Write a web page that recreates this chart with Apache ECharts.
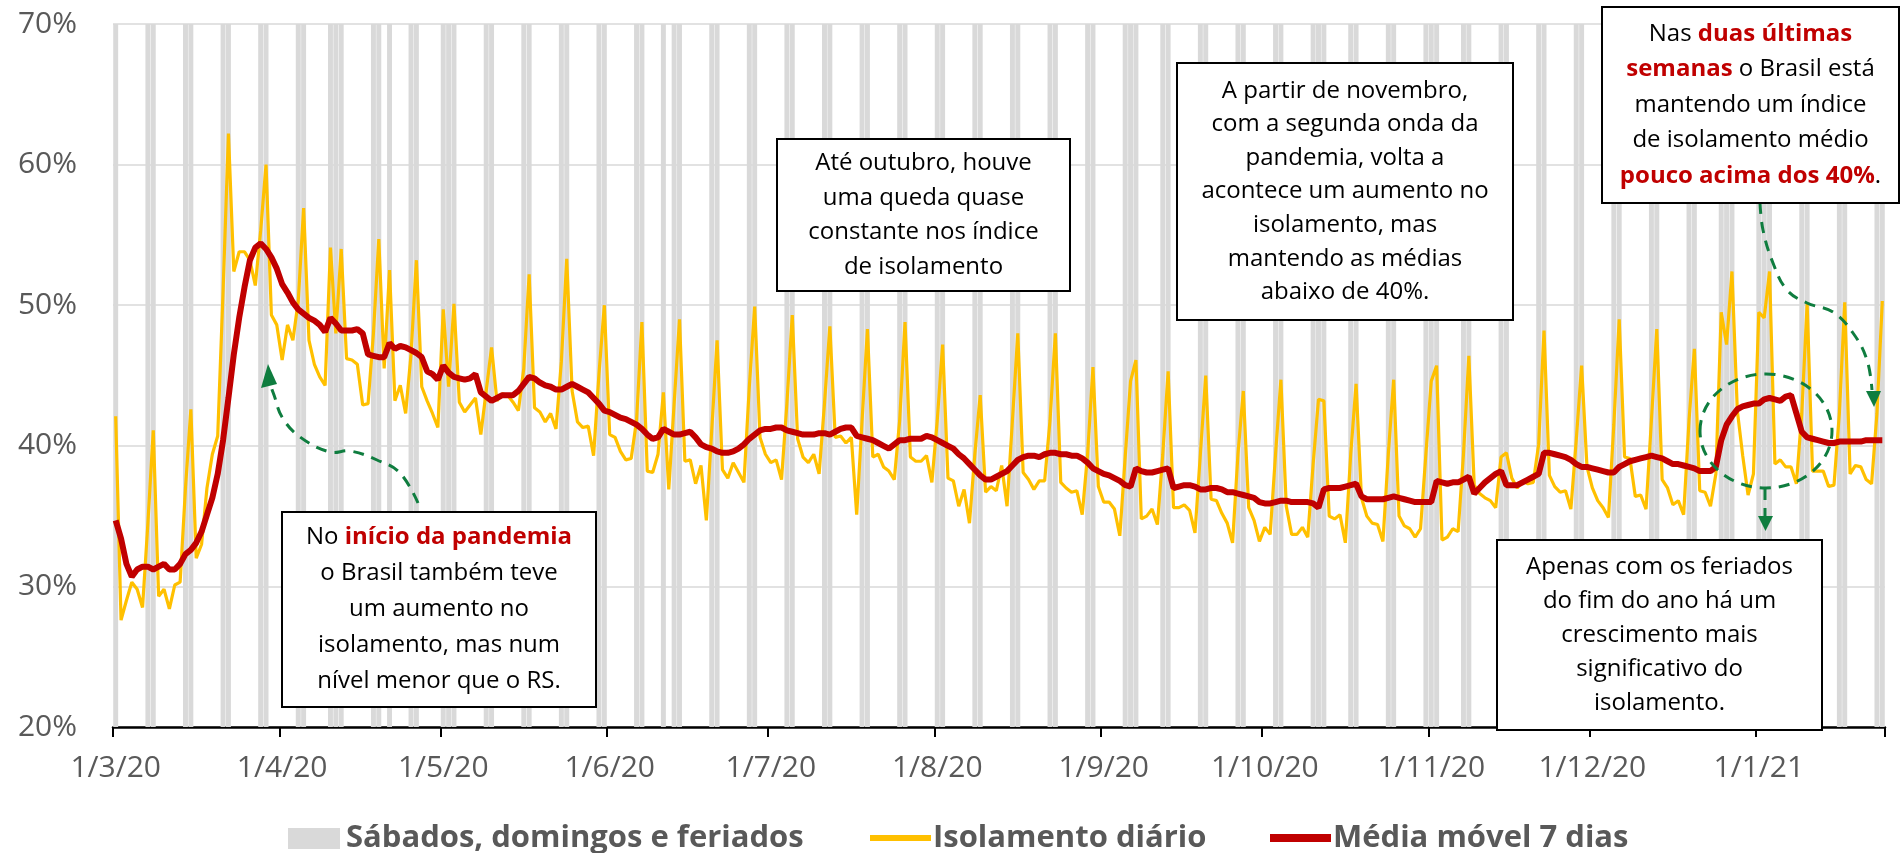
<!DOCTYPE html>
<html>
<head>
<meta charset="utf-8">
<title>Isolamento social - Brasil</title>
<script src="https://cdn.jsdelivr.net/npm/echarts@6.0.0/dist/echarts.min.js"></script>
<style>
  html, body { margin: 0; padding: 0; background: #fff; }
  #chart { width: 1901px; height: 853px; }
</style>
</head>
<body>
<div id="chart"></div>
<script>
// first day of the series (1/3/20) and number of days
var startDay = [2020, 2, 1];
var dayCount = 330;

// saturdays, sundays and holidays (index of the day from 1/3/20)
var offDays = [0, 6, 7, 13, 14, 20, 21, 27, 28, 34, 35, 40, 41, 42, 48, 49, 51, 55, 56,
  61, 62, 63, 69, 70, 76, 77, 83, 84, 90, 91, 97, 98, 102, 104, 105, 111, 112, 118, 119,
  125, 126, 132, 133, 139, 140, 146, 147, 153, 154, 160, 161, 167, 168, 174, 175, 181, 182,
  188, 189, 190, 195, 196, 202, 203, 209, 210, 216, 217, 223, 224, 225, 230, 231, 237, 238,
  244, 245, 246, 251, 252, 258, 259, 265, 266, 272, 273, 279, 280, 286, 287, 293, 294,
  299, 300, 301, 306, 307, 308, 314, 315, 321, 322, 328, 329];

// isolamento diario (%)
var daily = [
  42.1, 27.6, 29.0, 30.3, 29.8, 28.5, 34.5, 41.1, 29.3, 29.8,
  28.4, 30.1, 30.3, 37.0, 42.6, 32.0, 33.0, 37.0, 39.4, 40.7,
  51.0, 62.2, 52.4, 53.8, 53.8, 53.2, 51.4, 55.3, 60.0, 49.3,
  48.6, 46.1, 48.6, 47.5, 50.3, 56.9, 47.5, 45.8, 44.9, 44.3,
  54.1, 48.0, 54.0, 46.2, 46.1, 45.8, 42.9, 43.0, 48.0, 54.7,
  45.5, 52.5, 43.2, 44.3, 42.3, 46.5, 53.2, 44.2, 43.2, 42.3,
  41.3, 49.7, 44.2, 50.1, 43.1, 42.4, 42.9, 43.4, 40.8, 43.9,
  47.0, 43.2, 43.7, 43.6, 43.1, 42.5, 45.5, 52.2, 42.7, 42.4,
  41.7, 42.3, 41.2, 46.0, 53.3, 43.9, 41.7, 41.3, 41.4, 39.3,
  45.1, 50.0, 40.8, 40.6, 39.6, 39.0, 39.1, 41.8, 48.8, 38.2,
  38.1, 39.4, 43.8, 36.9, 43.0, 49.0, 38.9, 39.0, 37.3, 38.6,
  34.7, 41.1, 47.5, 38.3, 37.7, 38.8, 38.1, 37.4, 44.2, 49.9,
  40.6, 39.4, 38.8, 39.0, 37.6, 43.0, 49.3, 40.5, 39.2, 38.8,
  39.4, 38.0, 43.0, 48.5, 40.6, 40.7, 40.2, 40.6, 35.1, 41.8,
  48.3, 39.2, 39.4, 38.5, 38.2, 37.6, 41.8, 48.8, 39.2, 38.9,
  38.9, 39.3, 37.4, 41.8, 47.2, 37.7, 37.5, 35.7, 36.9, 34.5,
  39.4, 43.6, 36.7, 37.1, 36.8, 38.6, 35.7, 41.8, 48.0, 38.1,
  37.6, 36.9, 37.5, 37.5, 41.8, 48.0, 37.4, 37.0, 36.7, 36.8,
  35.1, 39.4, 45.6, 37.1, 36.0, 36.0, 35.5, 33.6, 39.2, 44.6,
  46.1, 34.8, 35.0, 35.5, 34.4, 39.4, 45.3, 35.6, 35.6, 35.8,
  35.4, 33.8, 39.4, 45.0, 36.2, 36.1, 35.2, 34.5, 33.1, 39.4,
  43.9, 35.6, 34.7, 33.2, 34.2, 33.7, 39.4, 44.7, 35.7, 33.7,
  33.7, 34.2, 33.5, 38.7, 43.3, 43.2, 35.0, 34.8, 35.1, 33.1,
  39.4, 44.4, 36.3, 35.0, 34.5, 34.4, 33.2, 39.4, 44.7, 35.0,
  34.3, 34.1, 33.5, 34.1, 39.4, 44.6, 45.7, 33.3, 33.5, 34.1,
  33.9, 39.4, 46.4, 37.2, 36.6, 36.3, 36.1, 35.6, 39.2, 39.5,
  37.7, 37.0, 37.5, 37.3, 37.4, 40.1, 48.2, 37.9, 37.1, 36.7,
  36.8, 35.5, 40.4, 45.7, 38.5, 37.0, 36.1, 35.6, 34.9, 41.5,
  49.0, 39.2, 39.1, 36.4, 36.5, 35.5, 41.8, 48.3, 37.6, 37.0,
  35.8, 36.1, 35.1, 41.8, 46.9, 36.8, 36.7, 35.7, 38.0, 49.5,
  47.2, 52.4, 42.5, 39.3, 36.5, 38.0, 49.5, 49.1, 52.4, 38.7,
  39.0, 38.5, 38.5, 37.3, 42.3, 50.1, 38.2, 38.2, 38.2, 37.1,
  37.2, 42.3, 50.2, 38.0, 38.6, 38.5, 37.6, 37.3, 42.3, 50.3
];

// media movel 7 dias (%)
var movingAvg = [
  34.7, 33.4, 31.6, 30.7, 31.2, 31.4, 31.4, 31.2, 31.4, 31.6,
  31.2, 31.2, 31.6, 32.3, 32.6, 33.1, 33.9, 35.1, 36.3, 38.0,
  40.4, 43.4, 46.5, 49.1, 51.3, 53.2, 54.1, 54.4, 54.0, 53.4,
  52.6, 51.5, 50.9, 50.2, 49.7, 49.4, 49.1, 48.9, 48.6, 48.1,
  49.1, 48.7, 48.2, 48.2, 48.2, 48.3, 48.0, 46.5, 46.4, 46.3,
  46.3, 47.3, 46.9, 47.1, 47.0, 46.8, 46.6, 46.3, 45.3, 45.1,
  44.7, 45.7, 45.2, 44.9, 44.8, 44.7, 44.8, 45.1, 43.8, 43.5,
  43.2, 43.4, 43.6, 43.6, 43.6, 43.9, 44.4, 44.9, 44.8, 44.5,
  44.3, 44.2, 44.0, 44.0, 44.2, 44.4, 44.2, 44.0, 43.8, 43.4,
  43.0, 42.5, 42.4, 42.2, 42.0, 41.9, 41.7, 41.5, 41.2, 40.8,
  40.5, 40.6, 41.2, 41.0, 40.8, 40.8, 40.9, 41.0, 40.6, 40.1,
  39.9, 39.8, 39.6, 39.5, 39.5, 39.6, 39.8, 40.1, 40.5, 40.8,
  41.1, 41.2, 41.2, 41.3, 41.3, 41.1, 41.0, 40.9, 40.8, 40.8,
  40.8, 40.9, 40.9, 40.8, 41.0, 41.2, 41.3, 41.3, 40.7, 40.6,
  40.5, 40.4, 40.2, 40.0, 39.8, 40.1, 40.4, 40.4, 40.5, 40.5,
  40.5, 40.7, 40.6, 40.4, 40.2, 40.0, 39.8, 39.4, 39.1, 38.7,
  38.3, 37.9, 37.6, 37.6, 37.8, 38.0, 38.2, 38.6, 39.0, 39.2,
  39.3, 39.3, 39.2, 39.4, 39.5, 39.5, 39.4, 39.4, 39.3, 39.3,
  39.1, 38.8, 38.4, 38.2, 38.0, 37.9, 37.7, 37.5, 37.2, 37.1,
  38.4, 38.2, 38.1, 38.1, 38.2, 38.3, 38.4, 37.0, 37.1, 37.2,
  37.2, 37.1, 36.9, 36.9, 37.0, 37.0, 36.9, 36.7, 36.7, 36.6,
  36.5, 36.4, 36.3, 36.0, 35.9, 35.9, 36.0, 36.1, 36.1, 36.0,
  36.0, 36.0, 36.0, 35.9, 35.6, 36.9, 37.0, 37.0, 37.0, 37.1,
  37.2, 37.3, 36.4, 36.2, 36.2, 36.2, 36.2, 36.3, 36.4, 36.3,
  36.2, 36.1, 36.0, 36.0, 36.0, 36.0, 37.5, 37.4, 37.3, 37.4,
  37.4, 37.6, 37.8, 36.6, 37.0, 37.4, 37.7, 38.0, 38.2, 37.2,
  37.2, 37.2, 37.4, 37.6, 37.8, 38.0, 39.5, 39.5, 39.4, 39.3,
  39.2, 39.0, 38.7, 38.5, 38.5, 38.4, 38.3, 38.2, 38.1, 38.1,
  38.5, 38.7, 38.9, 39.0, 39.1, 39.2, 39.3, 39.2, 39.1, 38.9,
  38.7, 38.7, 38.6, 38.5, 38.4, 38.2, 38.2, 38.2, 38.5, 40.4,
  41.5, 42.1, 42.6, 42.8, 42.9, 43.0, 43.0, 43.3, 43.4, 43.3,
  43.2, 43.5, 43.6, 42.3, 41.0, 40.6, 40.5, 40.4, 40.3, 40.2,
  40.2, 40.3, 40.3, 40.3, 40.3, 40.3, 40.4, 40.4, 40.4, 40.4
];

var yTicks = [20, 30, 40, 50, 60, 70];
var seriesNames = ['Sábados, domingos e feriados', 'Isolamento diário', 'Média móvel 7 dias'];

var days = [];
for (var i = 0; i < dayCount; i++) {
  var dt = new Date(startDay[0], startDay[1], startDay[2] + i);
  days.push(dt.getDate() + '/' + (dt.getMonth() + 1) + '/' + String(dt.getFullYear()).slice(2));
}
var offBars = days.map(function (d, i) { return offDays.indexOf(i) >= 0 ? yTicks[yTicks.length - 1] : null; });

var FONT = '"Open Sans", "Noto Sans", sans-serif';
var GREEN = '#0F7D3F';
var GRAY = '#D9D9D9', YELLOW = '#FFC000', RED = '#C00000';
var isMonthStart = function (idx, val) { return String(val).indexOf('1/') === 0; };

function box(x, y, w, h, text, lh) {
  return {
    type: 'group', z: 100,
    children: [
      { type: 'rect', z: 100, shape: { x: x, y: y, width: w, height: h },
        style: { fill: '#fff', stroke: '#000', lineWidth: 2 } },
      { type: 'text', z: 101, x: x + w / 2, y: y + h / 2,
        style: {
          text: text, fill: '#000', fontSize: 24, fontFamily: FONT,
          align: 'center', verticalAlign: 'middle', lineHeight: lh,
          rich: { r: { fill: RED, fontWeight: 'bold', fontSize: 24, fontFamily: FONT, lineHeight: lh } }
        } }
    ]
  };
}

function legendText(x, name) {
  return { type: 'text', z: 100, x: x, y: 838,
    style: { text: name, fill: '#595959', fontSize: 31, fontWeight: 'bold', fontFamily: FONT, verticalAlign: 'middle' } };
}

var dash = { fill: 'none', stroke: GREEN, lineWidth: 3, lineDash: [11, 8] };

var chart = echarts.init(document.getElementById('chart'));
chart.setOption({
  animation: false,
  grid: { left: 113, right: 16, top: 24, bottom: 126, outerBoundsMode: 'none' },
  xAxis: {
    type: 'category',
    data: days,
    boundaryGap: true,
    axisLine: { lineStyle: { color: '#000', width: 2.5 } },
    axisTick: { show: true, interval: isMonthStart, length: 10, lineStyle: { color: '#000', width: 2 } },
    axisLabel: { interval: isMonthStart, color: '#595959', fontSize: 30, fontFamily: FONT, margin: 26 },
    splitLine: { show: false }
  },
  yAxis: {
    type: 'value', min: 20, max: 70, interval: 10,
    axisLine: { show: false }, axisTick: { show: false },
    axisLabel: { formatter: '{value}%', color: '#595959', fontSize: 30, fontFamily: FONT, margin: 36 },
    splitLine: { lineStyle: { color: GRAY, width: 1.5 } }
  },
  series: [
    { name: seriesNames[0], type: 'bar', data: offBars, barCategoryGap: '8%',
      itemStyle: { color: GRAY }, silent: true },
    { name: seriesNames[1], type: 'line', data: daily, symbol: 'none',
      itemStyle: { color: YELLOW }, lineStyle: { color: YELLOW, width: 3.2 } },
    { name: seriesNames[2], type: 'line', data: movingAvg, symbol: 'none',
      itemStyle: { color: RED }, lineStyle: { color: RED, width: 6 } }
  ],
  graphic: [
    // legend
    { type: 'rect', z: 100, shape: { x: 288, y: 828, width: 52, height: 21 }, style: { fill: GRAY } },
    legendText(346, seriesNames[0]),
    { type: 'rect', z: 100, shape: { x: 870, y: 835, width: 61, height: 6 }, style: { fill: YELLOW } },
    legendText(933, seriesNames[1]),
    { type: 'rect', z: 100, shape: { x: 1270, y: 834, width: 61, height: 8 }, style: { fill: RED } },
    legendText(1333, seriesNames[2]),

    // arrow to the first peak
    { type: 'polyline', z: 100, shape: { points: [[418, 503], [400, 473], [377, 460], [350, 451], [330, 452], [300, 437], [282, 417], [274, 395], [270, 384]], smooth: 0.4 }, style: dash },
    { type: 'polygon', z: 100, shape: { points: [[268, 364], [261, 388], [277, 384]] }, style: { fill: GREEN } },
    // ellipse around the end of year holidays
    { type: 'ellipse', z: 100, shape: { cx: 1766, cy: 431, rx: 66, ry: 57 }, style: dash },
    { type: 'line', z: 100, shape: { x1: 1765, y1: 489, x2: 1765, y2: 517 }, style: dash },
    { type: 'polygon', z: 100, shape: { points: [[1758, 516], [1773, 516], [1765.5, 531]] }, style: { fill: GREEN } },
    // arrow from the last box
    { type: 'polyline', z: 100, shape: { points: [[1760, 203], [1763, 230], [1773, 263], [1787, 290], [1807, 303], [1833, 312], [1853, 333], [1867, 360], [1872, 390]], smooth: 0.4 }, style: dash },
    { type: 'polygon', z: 100, shape: { points: [[1866, 391], [1881, 391], [1874, 407]] }, style: { fill: GREEN } },

    box(282, 512, 314, 195, 'No {r|início da pandemia}\no Brasil também teve\num aumento no\nisolamento, mas num\nnível menor que o RS.', 36),
    box(777, 139, 293, 152, 'Até outubro, houve\numa queda quase\nconstante nos índice\nde isolamento', 34.5),
    box(1177, 63, 336, 257, 'A partir de novembro,\ncom a segunda onda da\npandemia, volta a\nacontece um aumento no\nisolamento, mas\nmantendo as médias\nabaixo de 40%.', 33.6),
    box(1602, 7, 297, 196, 'Nas {r|duas últimas}\n{r|semanas} o Brasil está\nmantendo um índice\nde isolamento médio\n{r|pouco acima dos 40%}.', 35.5),
    box(1497, 540, 325, 190, 'Apenas com os feriados\ndo fim do ano há um\ncrescimento mais\nsignificativo do\nisolamento.', 34)
  ]
});
</script>
</body>
</html>
